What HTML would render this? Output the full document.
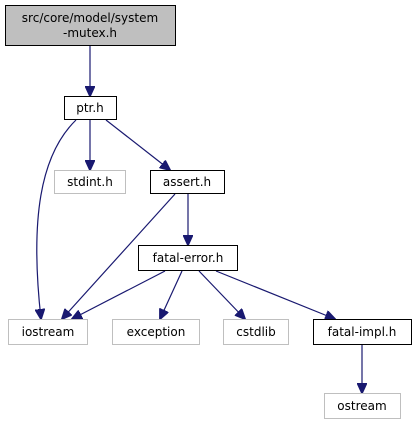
<!DOCTYPE html>
<html><head><style>
body{margin:0;background:#fff;width:417px;height:425px;overflow:hidden}
svg{display:block}
text{font-family:"DejaVu Sans","Liberation Sans",sans-serif;font-size:12px;fill:#000}
</style></head><body>
<svg width="417" height="425" viewBox="0 0 417 425">
<defs><marker id="a" markerWidth="11" markerHeight="10" refX="10" refY="5" orient="auto" markerUnits="userSpaceOnUse"><path d="M0,0 L11,5 L0,10 Z" fill="#191970" stroke="#191970"/></marker></defs>
<g fill="none" stroke="#191970" stroke-width="1.2" marker-end="url(#a)">
<path d="M90,46 L90,96"/>
<path d="M90,120 L90,170"/>
<path d="M106,120 L170,170"/>
<path d="M76,120 C40,155 30,220 41,319"/>
<path d="M175,194 L62,319"/>
<path d="M188,194 L188,245"/>
<path d="M165,271 L72,319"/>
<path d="M182,271 L160,319"/>
<path d="M199,271 L245,319"/>
<path d="M216,271 L335,319"/>
<path d="M362,345 L362,393"/>
</g>
<rect x="5.5" y="5.5" width="170" height="40" fill="#bfbfbf" stroke="#000"/>
<text x="90" y="22" text-anchor="middle">src/core/model/system</text>
<text x="90" y="37" text-anchor="middle">-mutex.h</text>
<g stroke="#000" fill="#fff">
<rect x="64.5" y="96.5" width="52" height="23"/>
<rect x="150.5" y="170.5" width="74" height="23"/>
<rect x="138.5" y="245.5" width="99" height="25"/>
<rect x="313.5" y="319.5" width="98" height="25"/>
</g>
<g stroke="#bfbfbf" fill="#fff">
<rect x="54.5" y="170.5" width="71" height="23"/>
<rect x="8.5" y="319.5" width="79" height="25"/>
<rect x="112.5" y="319.5" width="87" height="25"/>
<rect x="223.5" y="319.5" width="65" height="25"/>
<rect x="324.5" y="393.5" width="76" height="25"/>
</g>
<g text-anchor="middle">
<text x="90" y="112">ptr.h</text>
<text x="90" y="186">stdint.h</text>
<text x="187" y="186">assert.h</text>
<text x="188" y="262">fatal-error.h</text>
<text x="48" y="336">iostream</text>
<text x="156" y="336">exception</text>
<text x="256" y="336">cstdlib</text>
<text x="362" y="336">fatal-impl.h</text>
<text x="362" y="410">ostream</text>
</g>
</svg>
</body></html>
